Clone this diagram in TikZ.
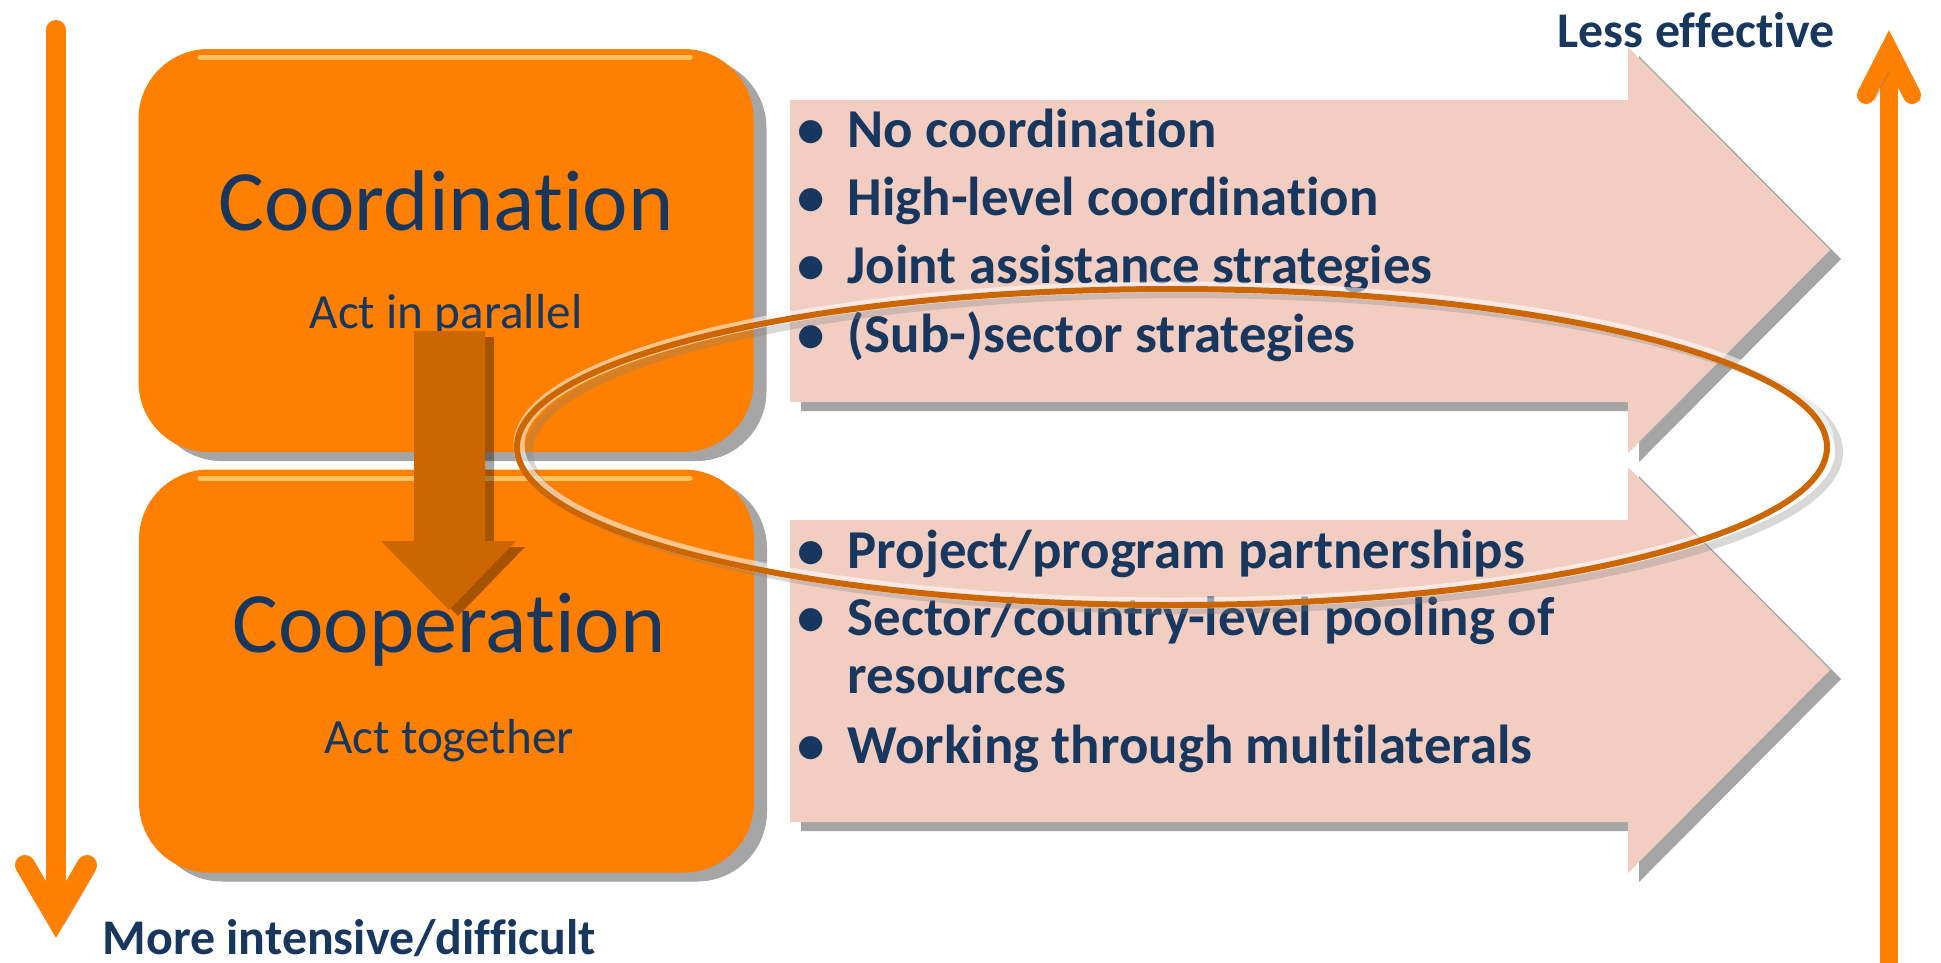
\documentclass[tikz,border=0pt]{standalone}
\usepackage{fontspec}
\setmainfont{Carlito}[Ligatures={TeX,NoCommon}]
\usetikzlibrary{shadows}

\definecolor{navy}{HTML}{17375E}
\definecolor{boxorange}{HTML}{FF8000}
\definecolor{darkorange}{HTML}{CC6600}
\definecolor{arrowpink}{HTML}{F2CEC2}
\definecolor{bevel}{HTML}{FFD27A}

\begin{document}
\begin{tikzpicture}[x=0.1mm,y=-0.1mm,
    stagebox/.style={fill=boxorange,rounded corners=7mm,minimum width=61.5mm,minimum height=40.3mm,inner sep=0pt,
      drop shadow={shadow xshift=1.3mm,shadow yshift=-0.9mm,fill=gray,opacity=0.7}},
    stagetitle/.style={text=navy,anchor=base,inner sep=0pt,font=\fontsize{24.5}{28}\selectfont},
    stagesub/.style={text=navy,anchor=base,inner sep=0pt,font=\fontsize{14}{17}\selectfont},
    listline/.style={text=navy,anchor=base west,inner sep=0pt,font=\bfseries\fontsize{15.6}{18}\selectfont},
    scalelabel/.style={text=navy,anchor=base west,inner sep=0pt,font=\bfseries\fontsize{14.2}{17}\selectfont},
    scaleline/.style={boxorange,line width=2mm,line cap=round,line join=miter,
      preaction={draw=gray,opacity=0.45,transform canvas={xshift=0.8mm,yshift=-0.6mm}}},
  ]
  \fill[white] (0,0) rectangle (1941,962);
  \useasboundingbox (0,0) rectangle (1941,962);

  % scale arrows
  \draw[scaleline] (56,30) -- (56,915);
  \draw[scaleline] (25,865) -- (56,918) -- (87,865);
  \draw[scaleline,line width=1.8mm] (1889,50) -- (1889,980);
  \draw[scaleline,line width=1.8mm] (1866,95) -- (1889,50) -- (1912,95);
  \node[scalelabel] (less) at (1557,47) {Less effective};
  \node[scalelabel] (more) at (102,954) {More intensive/difficult};

  % the two stages
  \node[stagebox] (coord) at (446,250.5) {};
  \node[stagebox] (coop) at (446.5,671) {};
  \draw[bevel,line width=0.5mm,line cap=round,opacity=0.8] (200,57) -- (690,57);
  \draw[bevel,line width=0.5mm,line cap=round,opacity=0.8] (200,478) -- (690,478);
  \node[stagetitle] (coordtitle) at (446,230) {Coordination};
  \node[stagesub] (coordsub) at (446,328) {Act in parallel};
  \node[stagetitle] (cooptitle) at (449,652) {Cooperation};
  \node[stagesub] (coopsub) at (449,753) {Act together};

  % step down
  \fill[darkorange,drop shadow={shadow xshift=0.9mm,shadow yshift=-0.6mm,fill=black,opacity=0.35}]
    (414,331) -- (485,331) -- (485,541) -- (516,541) -- (449,610) -- (381,541) -- (414,541) -- cycle;

  % pink arrows
  \foreach \dy in {0,420}
    \fill[arrowpink,drop shadow={shadow xshift=1.1mm,shadow yshift=-0.9mm,fill=gray,opacity=0.7}]
      (790,100+\dy) -- (1628,100+\dy) -- (1628,47+\dy) -- (1830,250+\dy) -- (1628,453+\dy)
      -- (1628,402+\dy) -- (790,402+\dy) -- cycle;

  \node[listline] (a1) at (797,147) {\makebox[5mm][l]{\textbullet}No coordination};
  \node[listline] (a2) at (797,215) {\makebox[5mm][l]{\textbullet}High-level coordination};
  \node[listline] (a3) at (797,283) {\makebox[5mm][l]{\textbullet}Joint assistance strategies};
  \node[listline] (a4) at (797,352) {\makebox[5mm][l]{\textbullet}(Sub-)sector strategies};
  \node[listline] (b1) at (797,568) {\makebox[5mm][l]{\textbullet}Project/program partnerships};
  \node[listline] (b2) at (797,635) {\makebox[5mm][l]{\textbullet}Sector/country-level pooling of};
  \node[listline] (b3) at (797,693) {\makebox[5mm][l]{}resources};
  \node[listline] (b4) at (797,763) {\makebox[5mm][l]{\textbullet}Working through multilaterals};

  % ring
  \draw[gray,opacity=0.3,line width=0.8mm] (1184,452) ellipse [x radius=655,y radius=158];
  \draw[white,opacity=0.55,line width=1.1mm] (1174,445) ellipse [x radius=655,y radius=158];
  \draw[darkorange,line width=0.6mm] (1172,447) ellipse [x radius=655,y radius=158];
\end{tikzpicture}
\end{document}
